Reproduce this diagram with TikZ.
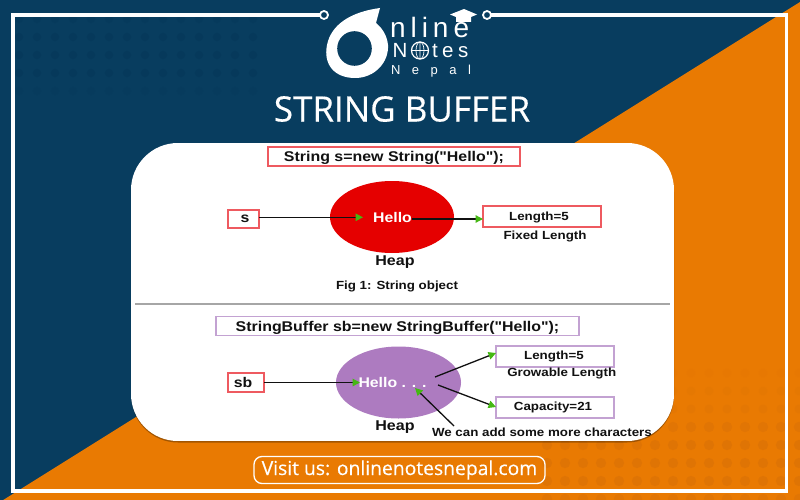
\documentclass[tikz,border=0pt]{standalone}
\usepackage{fontspec}
\setmainfont{Liberation Sans}
\newfontfamily\titlefont[FakeBold=0.35]{Open Sans}
\newfontfamily\wf[FakeStretch=1.13]{Liberation Sans}
\usetikzlibrary{arrows.meta,calc}
\definecolor{navy}{HTML}{083D5F}
\definecolor{navydot}{HTML}{06395B}
\definecolor{orng}{HTML}{E97A02}
\definecolor{orngdot}{HTML}{DF7405}
\definecolor{redbox}{HTML}{EE5A60}
\definecolor{purp}{HTML}{AD7BC0}
\definecolor{purpbox}{HTML}{C3A2D2}
\definecolor{ink}{HTML}{111111}
\definecolor{grn}{HTML}{45B814}
\newcommand{\dsz}[1]{\wf\bfseries\fontsize{#1}{#1}\selectfont}
\tikzset{
 x=1pt,y=-1pt,
 every node/.style={inner sep=0pt,outer sep=0pt},
 codebox/.style={draw=#1,line width=1.3pt,fill=white,text=ink,anchor=center},
 codetext/.style={text height=13pt,text depth=3pt,font=\dsz{14.1}},
 lab/.style={text=ink,font=\dsz{11.8}},
 heap/.style={text=ink,font=\dsz{14.2}},
 hello/.style={text=white,font=\dsz{14}},
 conn/.style={draw=ink,line width=1.3pt,-{Triangle[length=7.5pt,width=7.5pt,color=grn]}},
 frame/.style={draw=white,line width=3.2pt},
 logo/.style={text=white,anchor=base west},
}
\begin{document}
\begin{tikzpicture}
\useasboundingbox (0,0) rectangle (800,500);
\fill[navy] (0,0) rectangle (800,500);
% navy dot texture
\foreach \y/\o in {19/.5,37/1,55/1,73/.9,91/.35}{
  \foreach \k in {0,...,13}{
    \fill[navydot,opacity=\o] (19+18*\k,\y) circle (4.2);
  }
}
\fill[orng] (800,2) -- (800,500) -- (0,500) -- (0,502) -- cycle;
% orange dot texture
\foreach \y/\o in {427/.8,445/.9,463/.9,481/.9,499/.8}{
  \foreach \k in {0,...,14}{
    \fill[orngdot,opacity=\o] (547+18*\k,\y) circle (5.2);
  }
}
\foreach \y/\o in {373/.2,391/.3,409/.45}{
  \foreach \k in {7,...,14}{
    \fill[orngdot,opacity=\o] (547+18*\k,\y) circle (4.5);
  }
}
% frame
\coordinate (ca) at (324,15);
\coordinate (cb) at (487,15);
\draw[frame] ($(ca)+(-4,0)$) -- (13,15) -- (13,491) -- (786.5,491) -- (786.5,15) -- ($(cb)+(4,0)$);
\draw[white,line width=1.8pt] (ca) circle (4);
\draw[white,line width=1.8pt] (cb) circle (4);
% logo
\fill[white] (380,8) .. controls (350,12) and (331,25) .. (327,45) .. controls (323,65) and (335,78) .. (355,78) .. controls (375,78) and (389,62) .. (388,45) .. controls (387,35) and (382,28) .. (376,23) -- cycle;
\fill[navy] (354.5,48.5) circle (17.3);
\node[logo,font=\fontsize{28}{28}\selectfont] (n1) at (390,38) {n\kern5pt l\kern5pt i\kern5pt n\kern5pt e};
\node[logo,font=\fontsize{20.5}{21}\selectfont] (n2) at (392.5,58) {N};
\draw[white,line width=1.2pt] (420,50.5) circle (8.5);
\draw[white,line width=.7pt] (411.5,50.5) -- (428.5,50.5) (420,42) -- (420,59) (420,50.5) ellipse (4 and 8.5);
\node[logo,font=\fontsize{20.5}{21}\selectfont] (n2b) at (432,58) {t\kern4.5pt e\kern4.5pt s};
\node[logo,font=\fontsize{13}{14}\selectfont] (n3) at (391,75) {N\kern11.5pt e\kern11.5pt p\kern11.5pt a\kern11.5pt l};
\fill[white] (450,14.5) -- (464,9) -- (477,14.5) -- (471,17) -- (471,22) -- (456,22) -- (456,17) -- cycle;
% title
\node[text=white,font=\titlefont\fontsize{35}{40}\selectfont] (title) at (402,109) {STRING BUFFER};
% card
\fill[black,opacity=.3,rounded corners=47pt] (131,145) rectangle (674,442.5);
\begin{scope}
\clip[rounded corners=47pt] (131,143) rectangle (674,441);
\fill[white] (131,143) rectangle (674,441);
\draw[gray!70,line width=1.2pt] (135,304) -- (670,304);
% top
\node[codebox=redbox,minimum width=252pt,minimum height=19pt,codetext] (c1) at (394,156.5) {String s=new String("Hello");};
\node[codebox=redbox,minimum width=31pt,minimum height=18pt] (s) at (243.5,219) {};
\node[text=ink,font=\dsz{14}] (st) at (245,219) {s};
\fill[red!90!black] (392,217) ellipse (62 and 36);
\node[hello] (h1) at (392.5,217) {Hello};
\node[codebox=redbox,minimum width=118pt,minimum height=21pt] (l1) at (542,216.5) {};
\node[lab] (l1t) at (539,217) {Length=5};
\node[lab] (f1) at (545,236) {Fixed Length};
\node[heap] (hp1) at (395,262) {Heap};
\node[lab] (fig) at (397,286.5) {Fig 1: String object};
\draw[conn] (s.east |- 0,217.3) -- (363,217.3);
\draw[conn] (h1.east |- 0,219) -- (l1.west |- 0,219);
% bottom
\node[codebox=purpbox,minimum width=363pt,minimum height=18.5pt,codetext] (c2) at (397.5,326) {StringBuffer sb=new StringBuffer("Hello");};
\node[codebox=redbox,minimum width=36pt,minimum height=19pt] (sb) at (246,382.5) {};
\node[text=ink,font=\dsz{14}] (sbt) at (243,382) {sb};
\fill[purp] (398.5,382.5) ellipse (62.5 and 36);
\node[hello] (h2) at (392.5,382) {Hello . . .};
\node[codebox=purpbox,minimum width=118pt,minimum height=21pt] (l2) at (555,356.5) {};
\node[lab] (l2t) at (554,356.7) {Length=5};
\node[lab] (g2) at (561.7,373.7) {Growable Length};
\node[codebox=purpbox,minimum width=118pt,minimum height=21pt] (cp) at (555,407.5) {};
\node[lab] (cpt) at (553,407.3) {Capacity=21};
\node[heap] (hp2) at (395,426.7) {Heap};
\node[lab,anchor=west] (add) at (432,432.7) {We can add some more characters};
\coordinate (e1) at (435,377);
\coordinate (e2) at (438,385);
\coordinate (e3) at (454,426);
\draw[conn] (sb.east) -- (360,382.5);
\draw[conn] (e1) -- (l2.west |- 0,353);
\draw[conn] (e2) -- (cp.west |- 0,407);
\draw[conn] (e3) -- (415,388);
\end{scope}
% footer
\node[draw=white,line width=1.3pt,rounded corners=8pt,minimum width=291pt,minimum height=27pt,text=white,font=\titlefont\fontsize{19.3}{20}\selectfont] (visit) at (399.5,470) {Visit us: onlinenotesnepal.com};
\end{tikzpicture}
\end{document}
